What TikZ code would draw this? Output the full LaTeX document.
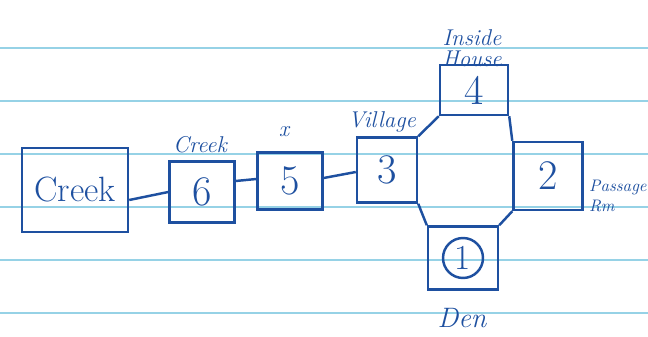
\documentclass[tikz,border=0pt]{standalone}
\definecolor{ink}{RGB}{30,80,160}
\definecolor{rule}{RGB}{150,210,230}
\begin{document}
\begin{tikzpicture}[x=0.02cm, y=-0.02cm, line width=1.4pt,
  room/.style={draw=ink, rectangle, align=center, text=ink, inner sep=0pt, font=\fontsize{24}{24}\selectfont},
  tag/.style={text=ink, align=center, font=\itshape\fontsize{13}{12}\selectfont, inner sep=0pt}]
\useasboundingbox (0,0) rectangle (648,337);
% paper lines
\foreach \y in {48,101,154,207,260,313}
  \draw[rule, line width=0.6pt] (0,\y) -- (648,\y);
\node[room, minimum width=2.12cm, minimum height=1.68cm, font=\fontsize{20}{20}\selectfont] (creek) at (75,190) {Creek};
\node[room, minimum width=1.3cm, minimum height=1.22cm] (b6) at (202,192) {6};
\node[room, minimum width=1.3cm, minimum height=1.14cm] (b5) at (290,181) {5};
\node[room, minimum width=1.2cm, minimum height=1.3cm] (b3) at (387,170) {3};
\node[room, minimum width=1.36cm, minimum height=1.0cm] (b4) at (474,90) {4};
\node[room, minimum width=1.38cm, minimum height=1.36cm] (b2) at (548,176) {2};
\node[room, minimum width=1.4cm, minimum height=1.26cm] (b1) at (463,258) {};
\node[draw=ink, circle, text=ink, minimum size=0.8cm, inner sep=0pt, font=\fontsize{20}{20}\selectfont] (one) at (b1) {1};
% labels
\node[tag] (l6) at (200,145) {Creek};
\node[tag] (l5) at (284,132) {x};
\node[tag] (l3) at (382,122) {Village};
\node[tag] (l4) at (472,48) {Inside\\House};
\node[tag, anchor=west, align=left, font=\itshape\fontsize{9.5}{11}\selectfont] (l2) at (588,196) {Passage\\Rm};
\node[tag, font=\itshape\fontsize{16}{16}\selectfont] (l1) at (462,318) {Den};
% corridor
\draw[ink] (creek.east |- 0,200) -- (b6.west |- 0,192);
\draw[ink] (b6.east |- 0,181) -- (b5.west |- 0,179);
\draw[ink] (b5.east |- 0,178) -- (b3.west |- 0,172);
% central hall
\draw[ink] (b4.south west) -- (b3.north east);
\draw[ink] (b4.south east) -- (b2.north west);
\draw[ink] (b2.south west) -- (b1.north east);
\draw[ink] (b1.north west) -- (b3.south east);
\end{tikzpicture}
\end{document}
